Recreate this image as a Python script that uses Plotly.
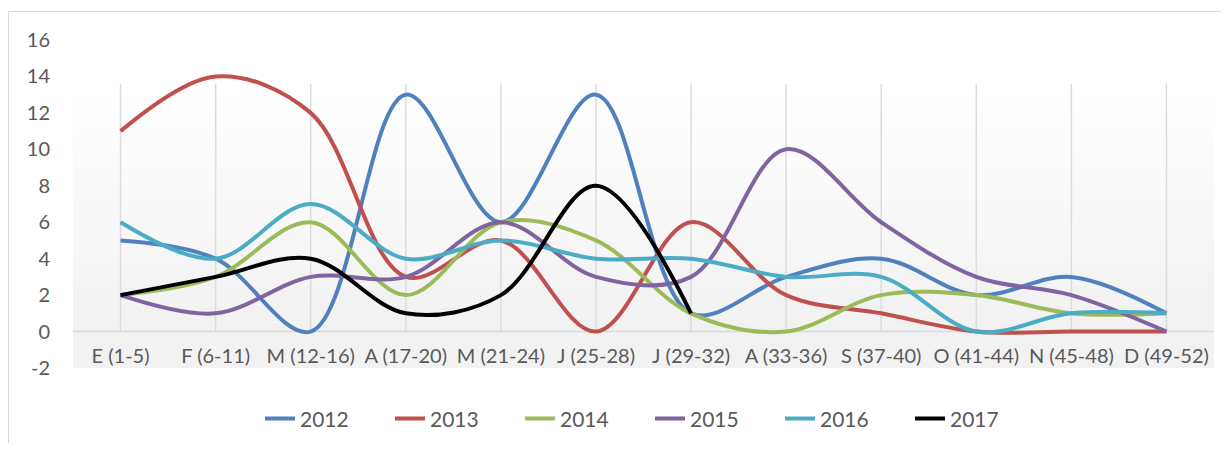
import plotly.graph_objects as go

categories = ["E (1-5)", "F (6-11)", "M (12-16)", "A (17-20)", "M (21-24)", "J (25-28)",
              "J (29-32)", "A (33-36)", "S (37-40)", "O (41-44)", "N (45-48)", "D (49-52)"]
series_names = ["2012", "2013", "2014", "2015", "2016", "2017"]
v2012 = [5, 4, 0, 13, 6, 13, 1, 3, 4, 2, 3, 1]
v2013 = [11, 14, 12, 3, 5, 0, 6, 2, 1, 0, 0, 0]
v2014 = [2, 3, 6, 2, 6, 5, 1, 0, 2, 2, 1, 1]
v2015 = [2, 1, 3, 3, 6, 3, 3, 10, 6, 3, 2, 0]
v2016 = [6, 4, 7, 4, 5, 4, 4, 3, 3, 0, 1, 1]
v2017 = [2, 3, 4, 1, 2, 8, 1, None, None, None, None, None]
colors = ["#4F81BD", "#C0504D", "#9BBB59", "#8064A2", "#4BACC6", "#000000"]
y_ticks = [-2, 0, 2, 4, 6, 8, 10, 12, 14, 16]
y_tick_labels = ["-2", "0", "2", "4", "6", "8", "10", "12", "14", "16"]

FONT = "Lato"
TXT = "#595959"

fig = go.Figure()
idx = list(range(len(categories)))
for name, vals, col in zip(series_names, [v2012, v2013, v2014, v2015, v2016, v2017], colors):
    fig.add_trace(go.Scatter(
        x=idx, y=vals, name=name, mode="lines",
        line=dict(color=col, width=4, shape="spline", smoothing=1.0),
        connectgaps=False, hoverinfo="skip",
    ))

# page body has an 8px margin: work in figure coordinates = page - 8
OFF = 8
W, H = 1229 - 2 * OFF, 451 - 2 * OFF
L, R, T, B = 73 - OFF, 1214 - OFF, 39.5 - OFF, 368 - OFF
px = lambda v: (v - OFF - L) / (R - L)
py = lambda v: (B - (v - OFF)) / (B - T)

shapes = []
n = 36
y_lo, y_hi = -2.0, 16.0
for i in range(n):
    a = y_lo + (y_hi - y_lo) * i / n
    b = y_lo + (y_hi - y_lo) * (i + 1) / n
    t = (i + 0.5) / n
    g = int(round(0xEF + (0xFF - 0xEF) * min(1.0, t / 0.85)))
    shapes.append(dict(type="rect", xref="x", yref="y", x0=-0.5, x1=11.5, y0=a, y1=b,
                       fillcolor=f"rgb({g},{g},{g})", line=dict(width=0), layer="below"))
shapes.append(dict(type="rect", xref="x", yref="y", x0=-0.5, x1=11.5, y0=-2, y1=0,
                   fillcolor="#F2F2F2", line=dict(width=0), layer="below"))
for i in idx:
    shapes.append(dict(type="line", xref="x", yref="y", x0=i, x1=i, y0=0, y1=13.6,
                       line=dict(color="#DCDCDC", width=1.5), layer="below"))
shapes.append(dict(type="line", xref="x", yref="y", x0=-0.5, x1=11.5, y0=0, y1=0,
                   line=dict(color="#D9D9D9", width=1.5), layer="below"))
shapes.append(dict(type="rect", xref="paper", yref="paper",
                   x0=px(8.5), x1=px(1260), y0=py(480), y1=py(11),
                   line=dict(color="#D9D9D9", width=1), fillcolor="rgba(0,0,0,0)", layer="below"))

fig.update_layout(
    width=W, height=H,
    margin=dict(l=L, r=W - R, t=T, b=H - B, pad=0, autoexpand=False),
    paper_bgcolor="white", plot_bgcolor="white",
    font=dict(family=FONT, size=20, color=TXT),
    shapes=shapes,
    showlegend=True,
    legend=dict(orientation="h", x=px(650), y=py(419), xanchor="center", yanchor="middle",
                font=dict(family=FONT, size=21, color=TXT), entrywidth=85,
                bgcolor="rgba(0,0,0,0)"),
    xaxis=dict(range=[-0.5, 11.5], tickmode="array", tickvals=idx, ticktext=categories,
               showgrid=False, zeroline=False, showline=False, ticks="",
               ticklabelstandoff=-26, tickfont=dict(family=FONT, size=20, color=TXT),
               fixedrange=True),
    yaxis=dict(range=[-2, 16], tickmode="array", tickvals=y_ticks, ticktext=y_tick_labels,
               showgrid=False, zeroline=False, showline=False, ticks="",
               ticklabelstandoff=22, tickfont=dict(family=FONT, size=20, color=TXT),
               fixedrange=True),
)

fig.write_html("out.html")
